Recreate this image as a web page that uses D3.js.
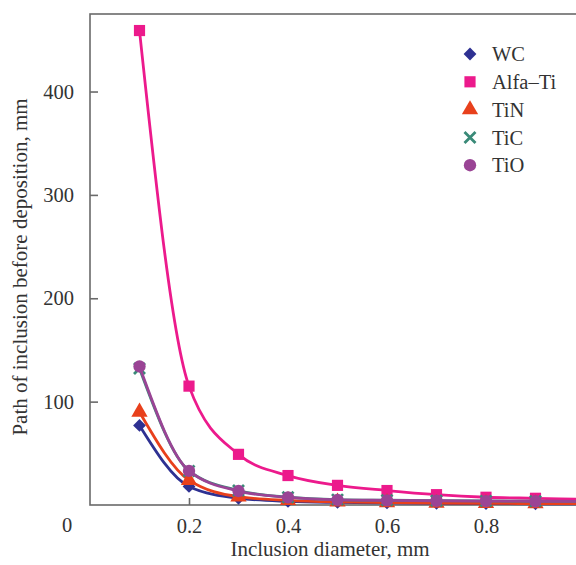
<!DOCTYPE html>
<html>
<head>
<meta charset="utf-8">
<script src="https://cdn.jsdelivr.net/npm/d3@7"></script>
<style>
  html, body { margin: 0; padding: 0; background: #fff; }
  svg { display: block; }
  text { font-family: "Liberation Serif", "Times New Roman", serif; fill: #333; }
</style>
</head>
<body>
<svg id="chart" width="576" height="565"></svg>
<script>
// Inclusion diameter (mm)
const diameters = [0.1, 0.2, 0.3, 0.4, 0.5, 0.6, 0.7, 0.8, 0.9, 1.0];

// Path of inclusion before deposition (mm) for each material
const wcPath     = [77, 18, 6.5, 3.5, 2.5, 2.0, 1.6, 1.4, 1.2, 1.1];
const alfaTiPath = [459, 115, 49, 28.5, 19, 14, 10, 7.5, 6.5, 5.5];
const tinPath    = [90, 24, 8, 4.5, 3.0, 2.4, 1.9, 1.6, 1.4, 1.2];
const ticPath    = [132, 33, 14, 7.6, 5.2, 4.6, 4.2, 3.9, 3.7, 3.5];
const tioPath    = [134, 33, 13.5, 7.4, 5.0, 4.5, 4.1, 3.8, 3.6, 3.4];

const seriesNames = ["WC", "Alfa\u2013Ti", "TiN", "TiC", "TiO"];
const seriesValues = [wcPath, alfaTiPath, tinPath, ticPath, tioPath];
const seriesColors = ["#2e3192", "#ec1a8c", "#e8401c", "#3a8a78", "#9a4495"];
const seriesSymbols = ["diamond", "square", "triangle", "cross", "circle"];

const xTicks = [0.2, 0.4, 0.6, 0.8];
const yTicks = [100, 200, 300, 400];

const svg = d3.select("#chart");
const plotLeft = 90, plotRight = 585, plotTop = 14, plotBottom = 505;

const x = d3.scaleLinear().domain([0, 1]).range([plotLeft, plotRight]);
const y = d3.scaleLinear().domain([0, 475]).range([plotBottom, plotTop]);

const axisColor = "#6a6a6a";
const fontSize = 20.5;

// plot frame
svg.append("rect")
  .attr("x", plotLeft).attr("y", plotTop)
  .attr("width", plotRight - plotLeft).attr("height", plotBottom - plotTop)
  .attr("fill", "none").attr("stroke", axisColor).attr("stroke-width", 1.6);

// y axis, ticks pointing inward
const yAxis = d3.axisLeft(y).tickValues(yTicks).tickSize(-8).tickPadding(16)
  .tickFormat(d3.format("d"));
const gy = svg.append("g").attr("transform", `translate(${plotLeft},0)`).call(yAxis);
gy.select(".domain").remove();
gy.selectAll(".tick line").attr("stroke", axisColor).attr("stroke-width", 1.6);
gy.selectAll(".tick text").attr("font-size", fontSize).attr("fill", "#333")
  .attr("font-family", "Liberation Serif, serif");

// x axis, ticks pointing inward
const xAxis = d3.axisBottom(x).tickValues(xTicks).tickSize(-7).tickPadding(13)
  .tickFormat(d3.format(".1f"));
const gx = svg.append("g").attr("transform", `translate(0,${plotBottom})`).call(xAxis);
gx.select(".domain").remove();
gx.selectAll(".tick line").attr("stroke", axisColor).attr("stroke-width", 1.6);
gx.selectAll(".tick text").attr("font-size", fontSize).attr("fill", "#333")
  .attr("font-family", "Liberation Serif, serif");

// origin label
svg.append("text")
  .attr("x", plotLeft - 23).attr("y", plotBottom + 27)
  .attr("text-anchor", "middle").attr("font-size", fontSize)
  .text("0");

// axis titles
svg.append("text")
  .attr("x", 330).attr("y", 556)
  .attr("text-anchor", "middle").attr("font-size", 21)
  .text("Inclusion diameter, mm");

svg.append("text")
  .attr("transform", "translate(27,267) rotate(-90)")
  .attr("text-anchor", "middle").attr("font-size", 21)
  .text("Path of inclusion before deposition, mm");

// marker drawing
const symbolSizes = { diamond: 82, square: 125, triangle: 115, circle: 120, cross: 0 };
function drawMarker(g, kind, color, cx, cy) {
  if (kind === "cross") {
    const s = 5.5;
    g.append("path")
      .attr("d", `M${cx - s},${cy - s}L${cx + s},${cy + s}M${cx - s},${cy + s}L${cx + s},${cy - s}`)
      .attr("stroke", color).attr("stroke-width", 2.8).attr("fill", "none");
    return;
  }
  const type = {
    diamond: d3.symbolSquare, square: d3.symbolSquare,
    triangle: d3.symbolTriangle, circle: d3.symbolCircle
  }[kind];
  const rot = kind === "diamond" ? " rotate(45)" : "";
  g.append("path")
    .attr("d", d3.symbol().type(type).size(symbolSizes[kind])())
    .attr("transform", `translate(${cx},${cy})${rot}`)
    .attr("fill", color);
}

const line = d3.line()
  .x(d => x(d[0]))
  .y(d => y(d[1]))
  .curve(d3.curveMonotoneX);

const plot = svg.append("g");
seriesValues.forEach((vals, i) => {
  const pts = diameters.map((dv, j) => [dv, vals[j]]);
  const g = plot.append("g");
  g.append("path")
    .attr("d", line(pts))
    .attr("fill", "none")
    .attr("stroke", seriesColors[i])
    .attr("stroke-width", 2.8);
  pts.forEach(p => drawMarker(g, seriesSymbols[i], seriesColors[i], x(p[0]), y(p[1])));
});

// legend
const legend = svg.append("g");
seriesNames.forEach((name, i) => {
  const ly = 54 + i * 27.8;
  drawMarker(legend, seriesSymbols[i], seriesColors[i], 470, ly);
  legend.append("text")
    .attr("x", 492).attr("y", ly)
    .attr("dy", "0.35em")
    .attr("font-size", fontSize)
    .text(name);
});
</script>
</body>
</html>
